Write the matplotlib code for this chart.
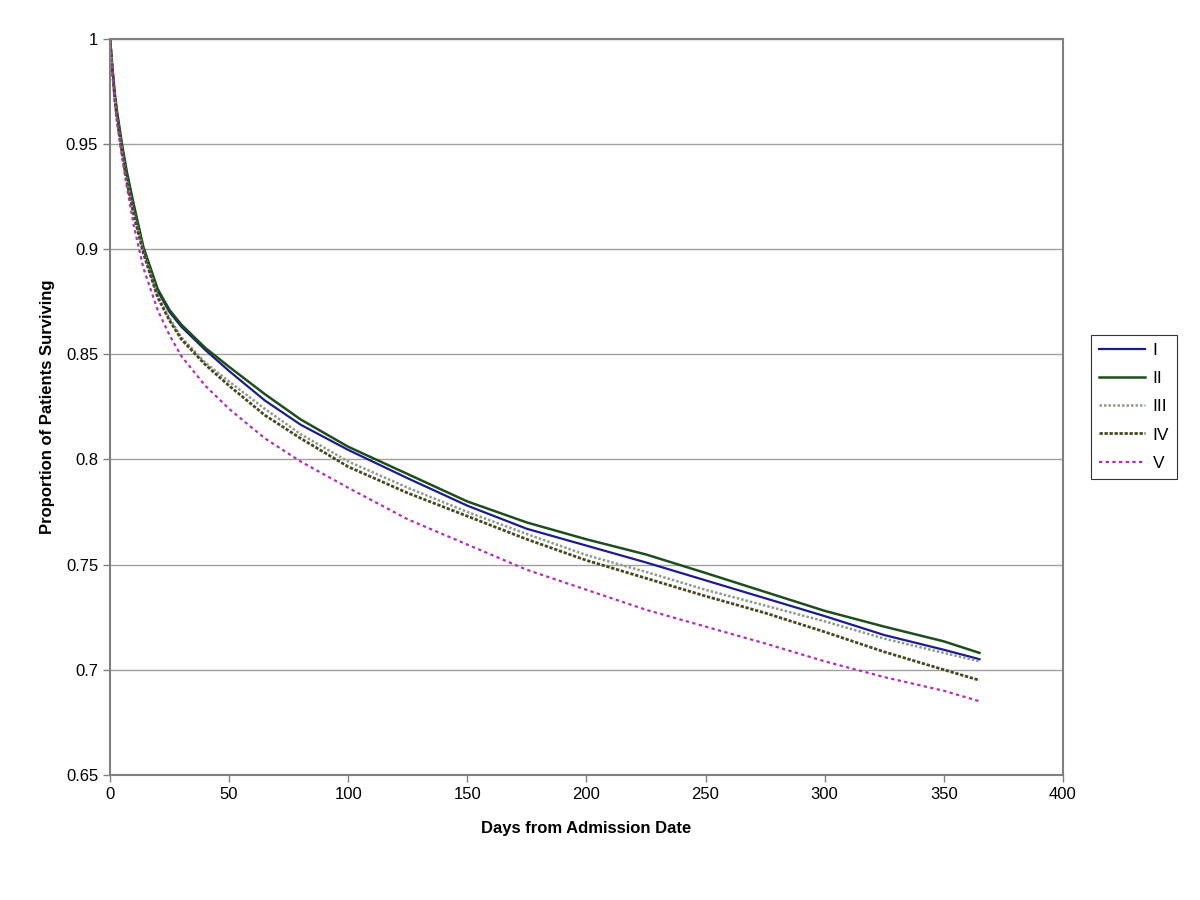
import matplotlib.pyplot as plt
plt.rcParams['font.family'] = ['Liberation Sans', 'DejaVu Sans']

days = [0, 1, 2, 3, 5, 7, 10, 14, 20, 25, 30, 40, 50, 65, 80, 100, 125, 150,
        175, 200, 225, 250, 275, 300, 325, 350, 365]
surv_I = [1.0, 0.986, 0.973, 0.964, 0.949, 0.936, 0.920, 0.900, 0.880, 0.870, 0.863,
          0.852, 0.842, 0.828, 0.8165, 0.8045, 0.791, 0.778, 0.767, 0.759, 0.751, 0.7425,
          0.734, 0.7255, 0.7165, 0.7095, 0.705]
surv_II = [1.0, 0.986, 0.974, 0.965, 0.950, 0.937, 0.921, 0.901, 0.881, 0.871, 0.864,
           0.853, 0.844, 0.831, 0.819, 0.806, 0.793, 0.780, 0.770, 0.762, 0.7548, 0.746,
           0.737, 0.728, 0.7205, 0.7135, 0.708]
surv_III = [1.0, 0.985, 0.972, 0.962, 0.947, 0.933, 0.917, 0.899, 0.878, 0.867, 0.858,
            0.846, 0.837, 0.824, 0.812, 0.799, 0.7865, 0.775, 0.7645, 0.7545, 0.7465, 0.738,
            0.7305, 0.723, 0.7148, 0.708, 0.704]
surv_IV = [1.0, 0.985, 0.971, 0.961, 0.946, 0.932, 0.916, 0.898, 0.877, 0.866, 0.857,
           0.845, 0.835, 0.821, 0.810, 0.7965, 0.784, 0.773, 0.762, 0.752, 0.7435, 0.735,
           0.727, 0.718, 0.7085, 0.700, 0.695]
surv_V = [1.0, 0.984, 0.970, 0.960, 0.944, 0.930, 0.911, 0.891, 0.871, 0.859, 0.849,
          0.835, 0.824, 0.810, 0.799, 0.7865, 0.7715, 0.7595, 0.7475, 0.738, 0.7285, 0.7205,
          0.7125, 0.704, 0.6965, 0.690, 0.685]
labels = ['I', 'II', 'III', 'IV', 'V']

fig = plt.figure(figsize=(12, 9), dpi=100)
ax = fig.add_axes([0.0917, 0.139, 0.794, 0.818])

ax.plot(days, surv_I, color='#1c1c8c', lw=1.6, label=labels[0])
ax.plot(days, surv_II, color='#1d4f1d', lw=1.8, label=labels[1])
ax.plot(days, surv_III, color='#8a9c8a', lw=1.8, linestyle=(0, (1, 0.8)), label=labels[2])
ax.plot(days, surv_IV, color='#4a4820', lw=2.0, linestyle=(0, (1.2, 0.6)), label=labels[3])
ax.plot(days, surv_V, color='#b030b8', lw=1.6, linestyle=(0, (1.5, 1.5)), label=labels[4])

ax.set_xlim(0, 400)
ax.set_ylim(0.65, 1.0)
ax.set_xticks(range(0, 401, 50))
ax.set_yticks([0.65, 0.7, 0.75, 0.8, 0.85, 0.9, 0.95, 1.0])
ax.set_yticklabels(['0.65', '0.7', '0.75', '0.8', '0.85', '0.9', '0.95', '1'])
ax.yaxis.grid(True, color='#a0a0a0', lw=1)
ax.set_axisbelow(True)
for s in ax.spines.values():
    s.set_color('#808080')
    s.set_linewidth(1.5)
ax.tick_params(colors='black', labelsize=12, direction='out', length=5, width=1)
ax.tick_params(axis='both', color='#808080')
ax.set_xlabel('Days from Admission Date', fontsize=12, fontweight='bold', labelpad=14)
ax.set_ylabel('Proportion of Patients Surviving', fontsize=12, fontweight='bold', labelpad=8)

leg = fig.legend(loc='center left', bbox_to_anchor=(0.909, 0.548), frameon=True,
                 fancybox=False, edgecolor='black', fontsize=12.5, handlelength=2.7,
                 handletextpad=0.4, labelspacing=0.75, borderpad=0.45, borderaxespad=0)
leg.get_frame().set_linewidth(0.8)

fig.savefig('out.png', dpi=100)
